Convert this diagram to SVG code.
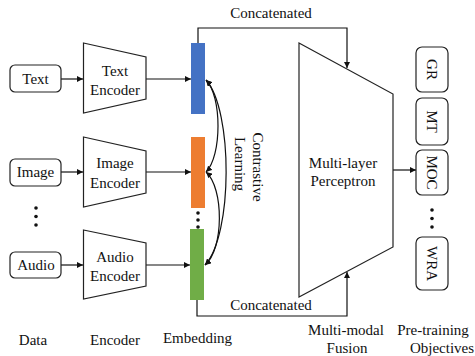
<svg xmlns="http://www.w3.org/2000/svg" width="475" height="356" viewBox="0 0 475 356">
<defs>
<style>
text{font-family:"Liberation Serif","Times New Roman",serif;font-size:15px;fill:#111;text-anchor:middle}
.box{fill:#fff;stroke:#222;stroke-width:1.2}
.enc{fill:#fff;stroke:#222;stroke-width:1.2}
.ln{fill:none;stroke:#111;stroke-width:1.2}
</style>
<marker id="ah" viewBox="0 0 10 10" refX="10" refY="5" markerWidth="6" markerHeight="6" markerUnits="userSpaceOnUse" orient="auto-start-reverse">
<path d="M0,0 L10,5 L0,10 z" fill="#111"/>
</marker>
</defs>
<rect width="475" height="356" fill="#fff"/>

<g id="connectors">
<line class="ln" x1="61" y1="79" x2="83" y2="79" marker-end="url(#ah)"/>
<line class="ln" x1="146" y1="79" x2="191" y2="79" marker-end="url(#ah)"/>
<line class="ln" x1="61" y1="172" x2="83" y2="172" marker-end="url(#ah)"/>
<line class="ln" x1="146" y1="172" x2="191" y2="172" marker-end="url(#ah)"/>
<line class="ln" x1="61" y1="265" x2="83" y2="265" marker-end="url(#ah)"/>
<line class="ln" x1="146" y1="265" x2="190" y2="265" marker-end="url(#ah)"/>
<path class="ln" d="M198,43 V28 H347 V68" marker-end="url(#ah)"/>
<path class="ln" d="M197,300 V316 H347 V272" marker-end="url(#ah)"/>
<line class="ln" x1="393" y1="170" x2="416" y2="170" marker-end="url(#ah)"/>
<path class="ln" d="M206,80 C222,96 222,156 206,172" marker-start="url(#ah)" marker-end="url(#ah)"/>
<path class="ln" d="M206,80 C233,110 233,235 205,265" marker-start="url(#ah)" marker-end="url(#ah)"/>
<path class="ln" d="M206,172 C224,188 224,249 205,265" marker-start="url(#ah)" marker-end="url(#ah)"/>
<text x="271" y="18">Concatenated</text>
<text x="271" y="310">Concatenated</text>
</g>

<g id="data-text"><rect class="box" x="10" y="65" width="51" height="27" rx="5"/><text x="35.5" y="84">Text</text></g>
<g id="data-image"><rect class="box" x="10" y="159" width="51" height="27" rx="5"/><text x="35.5" y="177">Image</text></g>
<g id="data-dots"><circle cx="36" cy="208" r="1.8" fill="#111"/><circle cx="36" cy="216.5" r="1.8" fill="#111"/><circle cx="36" cy="225" r="1.8" fill="#111"/></g>
<g id="data-audio"><rect class="box" x="10" y="252" width="51" height="26" rx="5"/><text x="36" y="270">Audio</text></g>

<g id="enc-text"><path class="enc" d="M83.5,43 L146,57 L146,99 L83.5,113 Z"/><text x="115" y="76">Text</text><text x="115" y="94.5">Encoder</text></g>
<g id="enc-image"><path class="enc" d="M83.5,137 L146,151 L146,193 L83.5,207 Z"/><text x="115" y="168">Image</text><text x="115" y="187.5">Encoder</text></g>
<g id="enc-audio"><path class="enc" d="M83.5,230 L146,243 L146,286 L83.5,299 Z"/><text x="115" y="262">Audio</text><text x="115" y="281">Encoder</text></g>

<g id="emb-text"><rect x="191" y="43" width="14" height="71" fill="#4472C4"/></g>
<g id="emb-image"><rect x="191" y="137" width="14" height="71" fill="#ED7D31"/></g>
<g id="emb-dots"><circle cx="198" cy="213" r="1.8" fill="#111"/><circle cx="198" cy="220" r="1.8" fill="#111"/><circle cx="198" cy="227" r="1.8" fill="#111"/></g>
<g id="emb-audio"><rect x="190" y="229" width="14" height="71" fill="#70AD47"/></g>

<g id="contrastive"><text transform="translate(258,167) rotate(90)" x="0" y="5">Contrastive</text><text transform="translate(240,164) rotate(90)" x="0" y="5">Learning</text></g>

<g id="mlp"><path class="enc" d="M299,43 L393,94 L393,247 L299,297 Z"/><text x="343" y="168">Multi-layer</text><text x="343" y="186">Perceptron</text></g>

<g id="obj-gr"><rect class="box" x="416" y="47" width="32" height="45" rx="6"/><text transform="translate(432,69.5) rotate(90)" x="0" y="5">GR</text></g>
<g id="obj-mt"><rect class="box" x="416" y="98" width="32" height="47" rx="6"/><text transform="translate(432,121.5) rotate(90)" x="0" y="5">MT</text></g>
<g id="obj-moc"><rect class="box" x="416" y="150" width="32" height="45" rx="6"/><text transform="translate(432,172.5) rotate(90)" x="0" y="5">MOC</text></g>
<g id="obj-dots"><circle cx="432" cy="210" r="1.8" fill="#111"/><circle cx="432" cy="218.5" r="1.8" fill="#111"/><circle cx="432" cy="227" r="1.8" fill="#111"/></g>
<g id="obj-wra"><rect class="box" x="416" y="237" width="32" height="53" rx="6"/><text transform="translate(432,263.5) rotate(90)" x="0" y="5">WRA</text></g>

<g id="labels">
<text x="33" y="345">Data</text>
<text x="115" y="345">Encoder</text>
<text x="197.5" y="343">Embedding</text>
<text x="346" y="335">Multi-modal</text>
<text x="347" y="353">Fusion</text>
<text x="433" y="335">Pre-training</text>
<text x="442" y="353">Objectives</text>
</g>
</svg>
